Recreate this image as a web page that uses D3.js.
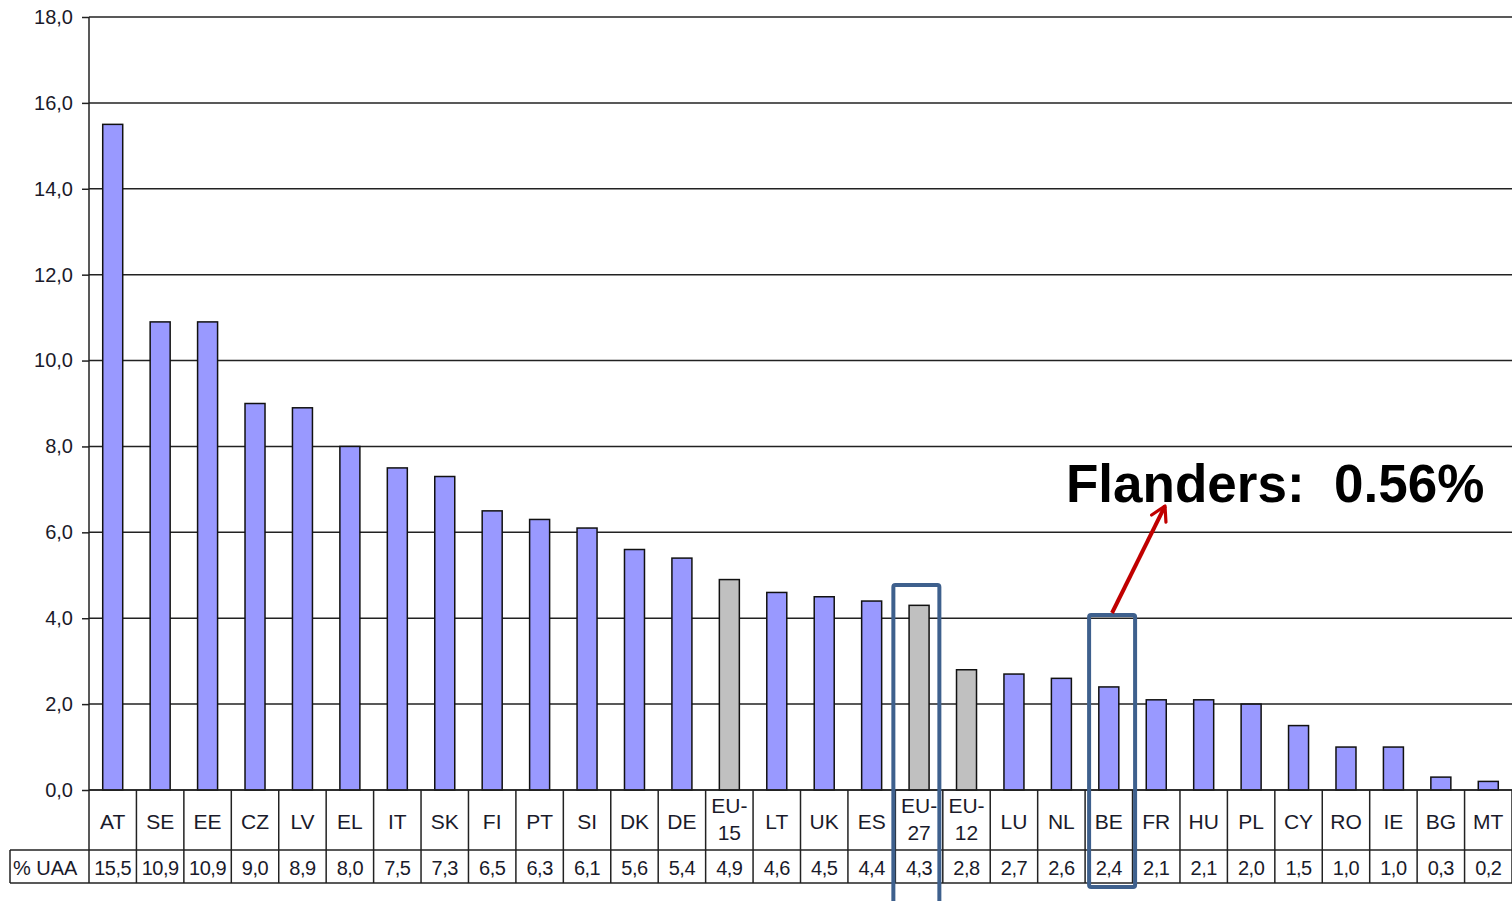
<!DOCTYPE html>
<html>
<head>
<meta charset="utf-8">
<script src="https://cdn.jsdelivr.net/npm/d3@7"></script>
<style>
  body { margin: 0; background: #fff; }
  svg { display: block; font-family: "Liberation Sans", Arial, sans-serif; }
</style>
</head>
<body>
<svg id="chart" width="1512" height="901"></svg>
<script>
const countries = ["AT", "SE", "EE", "CZ", "LV", "EL", "IT", "SK", "FI", "PT", "SI", "DK", "DE", "EU-15", "LT", "UK", "ES", "EU-27", "EU-12", "LU", "NL", "BE", "FR", "HU", "PL", "CY", "RO", "IE", "BG", "MT"];
const uaaShare = [15.5, 10.9, 10.9, 9.0, 8.9, 8.0, 7.5, 7.3, 6.5, 6.3, 6.1, 5.6, 5.4, 4.9, 4.6, 4.5, 4.4, 4.3, 2.8, 2.7, 2.6, 2.4, 2.1, 2.1, 2.0, 1.5, 1.0, 1.0, 0.3, 0.2];
const aggregates = ["EU-15", "EU-27", "EU-12"];
const highlighted = ["EU-27", "BE"];
const yTicks = [0, 2, 4, 6, 8, 10, 12, 14, 16, 18];
const rowLabel = "% UAA";
const note = "Flanders:  0.56%";

const fmt = v => d3.format(".1f")(v).replace(".", ",");

const svg = d3.select("#chart");

const x = d3.scaleBand().domain(countries).range([89, 1512]);
const y = d3.scaleLinear().domain([0, 18]).range([790, 17]);

const row1Bottom = 850;
const row2Bottom = 883;
const textColor = "#1a1a2a";

// gridlines
svg.append("g")
    .selectAll("line")
    .data(yTicks)
    .join("line")
    .attr("x1", 89).attr("x2", 1512)
    .attr("y1", d => y(d)).attr("y2", d => y(d))
    .attr("stroke", "#222").attr("stroke-width", 1.5);

// y axis
const yAxis = svg.append("g")
    .attr("transform", "translate(89,0)")
    .call(d3.axisLeft(y).tickValues(yTicks).tickFormat(fmt).tickSize(7).tickPadding(9));
yAxis.select(".domain").remove();
yAxis.selectAll(".tick line").attr("stroke", "#222").attr("stroke-width", 1.5);
yAxis.selectAll(".tick text").attr("font-size", 20).attr("fill", textColor)
    .attr("font-family", "'Liberation Sans', Arial, sans-serif");

svg.append("line")
    .attr("x1", 89).attr("x2", 89).attr("y1", 17).attr("y2", row2Bottom)
    .attr("stroke", "#222").attr("stroke-width", 1.5);

// bars
const barW = 20;
svg.append("g")
    .selectAll("rect")
    .data(countries)
    .join("rect")
    .attr("x", d => x(d) + x.bandwidth() / 2 - barW / 2)
    .attr("y", (d, i) => y(uaaShare[i]))
    .attr("width", barW)
    .attr("height", (d, i) => y(0) - y(uaaShare[i]))
    .attr("fill", d => aggregates.includes(d) ? "#c0c0c0" : "#9999ff")
    .attr("stroke", "#111").attr("stroke-width", 1.5);

// data table
const table = svg.append("g");
[y(0), row1Bottom, row2Bottom].forEach((yy, i) => {
    table.append("line")
        .attr("x1", i === 0 ? 89 : 10).attr("x2", 1512)
        .attr("y1", yy).attr("y2", yy)
        .attr("stroke", "#222").attr("stroke-width", 1.5);
});
table.append("line")
    .attr("x1", 10).attr("x2", 10).attr("y1", row1Bottom).attr("y2", row2Bottom)
    .attr("stroke", "#222").attr("stroke-width", 1.5);
table.selectAll("line.col")
    .data(countries)
    .join("line")
    .attr("class", "col")
    .attr("x1", d => x(d) + x.bandwidth()).attr("x2", d => x(d) + x.bandwidth())
    .attr("y1", y(0)).attr("y2", row2Bottom)
    .attr("stroke", "#222").attr("stroke-width", 1.5);

const catText = table.selectAll("text.cat")
    .data(countries)
    .join("text")
    .attr("class", "cat")
    .attr("text-anchor", "middle")
    .attr("font-size", 21)
    .attr("fill", textColor);
catText.each(function (d) {
    const t = d3.select(this);
    const cx = x(d) + x.bandwidth() / 2;
    if (d.startsWith("EU-")) {
        const parts = d.split("-");
        t.append("tspan").attr("x", cx).attr("y", 813).text(parts[0] + "-");
        t.append("tspan").attr("x", cx).attr("y", 840).text(parts[1]);
    } else {
        t.attr("x", cx).attr("y", 829).text(d);
    }
});

table.selectAll("text.val")
    .data(uaaShare)
    .join("text")
    .attr("class", "val")
    .attr("x", (d, i) => x(countries[i]) + x.bandwidth() / 2)
    .attr("y", 875)
    .attr("text-anchor", "middle")
    .attr("font-size", 20)
    .attr("letter-spacing", -0.5)
    .attr("fill", textColor)
    .text(fmt);

table.append("text")
    .attr("x", 13).attr("y", 875)
    .attr("font-size", 20)
    .attr("fill", textColor)
    .text(rowLabel);

// highlight boxes
const boxes = {
    "EU-27": { dx: -2, top: 585, bottom: 905 },
    "BE": { dx: 4, top: 615, bottom: 887 }
};
svg.append("g")
    .selectAll("rect")
    .data(highlighted)
    .join("rect")
    .attr("x", d => x(d) + boxes[d].dx)
    .attr("y", d => boxes[d].top)
    .attr("width", 46)
    .attr("height", d => boxes[d].bottom - boxes[d].top)
    .attr("rx", 2)
    .attr("fill", "none")
    .attr("stroke", "#3e608d")
    .attr("stroke-width", 4);

// annotation arrow
const defs = svg.append("defs");
defs.append("marker")
    .attr("id", "head")
    .attr("viewBox", "0 0 10 10")
    .attr("refX", 8).attr("refY", 5)
    .attr("markerWidth", 5).attr("markerHeight", 5)
    .attr("orient", "auto")
    .append("path")
    .attr("d", "M1,1 L8,5 L1,9")
    .attr("fill", "none")
    .attr("stroke", "#c00000")
    .attr("stroke-width", 1.6)
    .attr("stroke-linecap", "round")
    .attr("stroke-linejoin", "round");

svg.append("line")
    .attr("x1", 1112).attr("y1", 613)
    .attr("x2", 1165).attr("y2", 506)
    .attr("stroke", "#c00000")
    .attr("stroke-width", 4)
    .attr("marker-end", "url(#head)");

svg.append("text")
    .attr("x", 1066).attr("y", 502)
    .attr("font-size", 53)
    .attr("font-weight", "bold")
    .attr("fill", "#000")
    .attr("xml:space", "preserve")
    .style("white-space", "pre")
    .text(note);
</script>
</body>
</html>
